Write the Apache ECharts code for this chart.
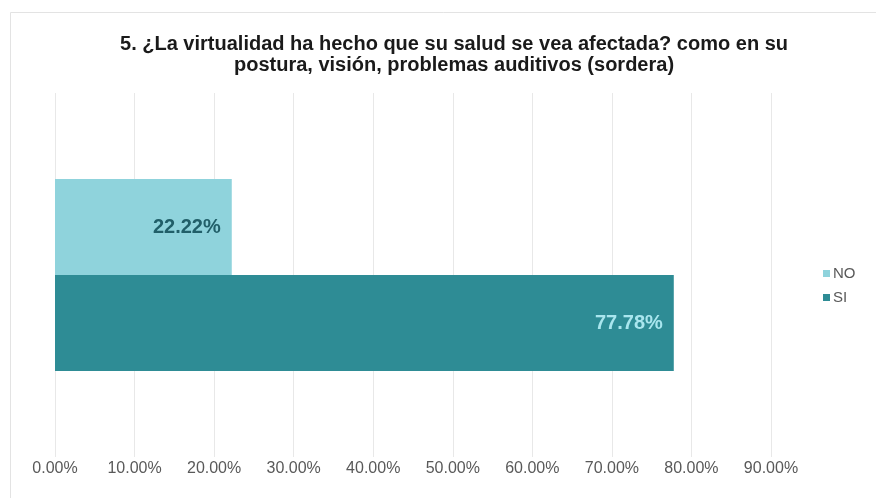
<!DOCTYPE html>
<html>
<head>
<meta charset="utf-8">
<script src="https://cdn.jsdelivr.net/npm/echarts@6/dist/echarts.min.js"></script>
<style>
  html, body { margin: 0; padding: 0; background: #ffffff; }
  #chart { width: 876px; height: 498px; }
</style>
</head>
<body>
<div id="chart"></div>
<script>
// Survey question 5: share of answers NO / SI
const categories = ['Respuestas'];
const seriesNames = ['NO', 'SI'];
const noValues = [22.22];
const siValues = [77.78];
const axisTicks = [0, 10, 20, 30, 40, 50, 60, 70, 80, 90];

const titleText = '5. ¿La virtualidad ha hecho que su salud se vea afectada? como en su\npostura, visión, problemas auditivos (sordera)';

const chart = echarts.init(document.getElementById('chart'), null, { renderer: 'canvas' });

const fmtPct = v => Number(v).toFixed(2) + '%';

chart.setOption({
  backgroundColor: '#ffffff',
  animation: false,
  textStyle: { fontFamily: 'Liberation Sans, Arial, sans-serif' },
  graphic: [{
    type: 'rect',
    shape: { x: 10.5, y: 12.5, width: 880, height: 500 },
    style: { fill: 'none', stroke: '#e3e3e3', lineWidth: 1 },
    silent: true
  }],
  title: {
    text: titleText,
    left: 449,
    top: 29,
    textAlign: 'center',
    textStyle: {
      fontFamily: 'Liberation Sans, Arial, sans-serif',
      fontSize: 20,
      fontWeight: 'bold',
      color: '#1a1a1a',
      lineHeight: 21
    }
  },
  legend: {
    orient: 'vertical',
    left: 818,
    top: 261,
    itemWidth: 7,
    itemHeight: 7,
    itemGap: 9,
    icon: 'rect',
    data: seriesNames,
    textStyle: { color: '#595959', fontSize: 15, padding: [0, 0, 0, -2] }
  },
  grid: {
    left: 55,
    right: 105,
    top: 93,
    bottom: 41,
    containLabel: false
  },
  xAxis: {
    type: 'value',
    min: axisTicks[0],
    max: axisTicks[axisTicks.length - 1],
    interval: axisTicks[1] - axisTicks[0],
    axisLine: { show: false },
    axisTick: { show: false },
    splitLine: { show: true, lineStyle: { color: '#e8e8e8', width: 1 } },
    axisLabel: {
      formatter: fmtPct,
      color: '#595959',
      fontSize: 16,
      margin: 4
    }
  },
  yAxis: {
    type: 'category',
    data: categories,
    inverse: true,
    axisLine: { show: false },
    axisTick: { show: false },
    axisLabel: { show: false }
  },
  series: [
    {
      name: seriesNames[0],
      type: 'bar',
      data: noValues,
      barWidth: 96,
      barGap: '0%',
      itemStyle: { color: '#8fd3dc' },
      label: {
        show: true,
        position: 'insideRight',
        formatter: p => fmtPct(p.value),
        color: '#215f69',
        fontWeight: 'bold',
        fontSize: 20,
        distance: 11
      }
    },
    {
      name: seriesNames[1],
      type: 'bar',
      data: siValues,
      barWidth: 96,
      barGap: '0%',
      itemStyle: { color: '#2e8c95' },
      label: {
        show: true,
        position: 'insideRight',
        formatter: p => fmtPct(p.value),
        color: '#a9e6ee',
        fontWeight: 'bold',
        fontSize: 20,
        distance: 11
      }
    }
  ]
});
</script>
</body>
</html>
